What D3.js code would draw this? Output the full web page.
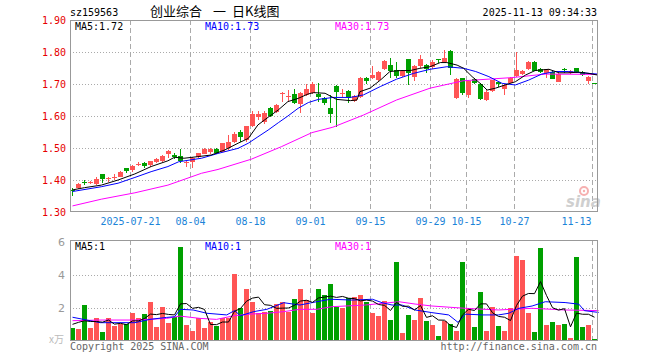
<!DOCTYPE html>
<html>
<head>
<meta charset="utf-8">
<script src="https://cdn.jsdelivr.net/npm/d3@7"></script>
<style>
  body { margin: 0; background: #fff; }
  svg { display: block; }
  text { font-family: "DejaVu Sans Mono", "Liberation Mono", monospace; font-size: 10px; }
</style>
</head>
<body>
<div id="chart"></div>
<script>
// trading days shown, 2025-07-07 .. 2025-11-13
var dates = ["07-07","07-08","07-09","07-10","07-11","07-14","07-15","07-16","07-17","07-18",
  "07-21","07-22","07-23","07-24","07-25","07-28","07-29","07-30","07-31","08-01",
  "08-04","08-05","08-06","08-07","08-08","08-11","08-12","08-13","08-14","08-15",
  "08-18","08-19","08-20","08-21","08-22","08-25","08-26","08-27","08-28","08-29",
  "09-01","09-02","09-03","09-04","09-05","09-08","09-09","09-10","09-11","09-12",
  "09-15","09-16","09-17","09-18","09-19","09-22","09-23","09-24","09-25","09-26",
  "09-29","09-30","10-09","10-10","10-13","10-14","10-15","10-16","10-17","10-20",
  "10-21","10-22","10-23","10-24","10-27","10-28","10-29","10-30","10-31","11-03",
  "11-04","11-05","11-06","11-07","11-10","11-11","11-12","11-13"];

var open = [1.368,1.375,1.395,1.392,1.388,1.418,1.402,1.405,1.410,1.436,
  1.430,1.448,1.453,1.447,1.455,1.460,1.480,1.478,1.475,1.452,
  1.455,1.472,1.482,1.487,1.498,1.489,1.500,1.520,1.550,1.526,
  1.568,1.597,1.580,1.624,1.614,1.668,1.660,1.668,1.638,1.666,
  1.672,1.670,1.655,1.624,1.694,1.671,1.678,1.648,1.660,1.720,
  1.718,1.712,1.746,1.758,1.745,1.726,1.777,1.723,1.757,1.759,
  1.752,1.779,1.770,1.804,1.655,1.718,1.666,1.715,1.700,1.650,
  1.677,1.707,1.683,1.704,1.725,1.731,1.746,1.770,1.746,1.735,
  1.739,1.707,1.748,1.733,1.749,1.739,1.710,1.702];

var high = [1.375,1.390,1.400,1.398,1.409,1.420,1.410,1.418,1.428,1.438,
  1.446,1.456,1.456,1.460,1.468,1.478,1.493,1.485,1.498,1.460,
  1.472,1.485,1.499,1.500,1.500,1.517,1.540,1.550,1.555,1.570,
  1.617,1.617,1.615,1.627,1.636,1.676,1.680,1.684,1.676,1.700,
  1.705,1.704,1.660,1.666,1.696,1.683,1.680,1.665,1.722,1.722,
  1.755,1.740,1.776,1.780,1.768,1.745,1.778,1.760,1.790,1.763,
  1.775,1.779,1.806,1.806,1.718,1.720,1.712,1.720,1.702,1.680,
  1.714,1.710,1.699,1.722,1.800,1.745,1.772,1.772,1.750,1.748,
  1.741,1.733,1.750,1.745,1.751,1.741,1.725,1.703];

var low = [1.350,1.372,1.385,1.388,1.383,1.390,1.395,1.400,1.408,1.422,
  1.425,1.443,1.437,1.440,1.452,1.455,1.470,1.465,1.452,1.440,
  1.436,1.468,1.480,1.482,1.482,1.487,1.495,1.515,1.520,1.520,
  1.565,1.587,1.575,1.598,1.610,1.645,1.645,1.637,1.610,1.662,
  1.668,1.645,1.635,1.579,1.565,1.660,1.640,1.645,1.655,1.700,
  1.715,1.708,1.744,1.718,1.718,1.722,1.697,1.710,1.750,1.735,
  1.748,1.765,1.768,1.728,1.653,1.665,1.655,1.700,1.650,1.647,
  1.675,1.690,1.666,1.702,1.723,1.729,1.744,1.740,1.735,1.718,
  1.715,1.705,1.735,1.730,1.735,1.726,1.700,1.701];

var close = [1.366,1.388,1.393,1.393,1.402,1.403,1.405,1.410,1.425,1.427,
  1.444,1.451,1.445,1.458,1.466,1.475,1.490,1.473,1.458,1.455,
  1.470,1.483,1.497,1.498,1.485,1.515,1.520,1.545,1.533,1.568,
  1.605,1.606,1.610,1.600,1.634,1.671,1.663,1.640,1.671,1.683,
  1.700,1.660,1.640,1.607,1.676,1.673,1.655,1.662,1.720,1.710,
  1.728,1.738,1.772,1.742,1.725,1.742,1.733,1.756,1.777,1.746,
  1.770,1.778,1.780,1.750,1.715,1.672,1.710,1.703,1.653,1.676,
  1.712,1.700,1.697,1.720,1.744,1.742,1.770,1.742,1.739,1.746,
  1.715,1.731,1.746,1.742,1.739,1.728,1.723,1.701];

// volume, 万
var volume = [0.76,0.70,2.15,0.78,1.38,0.53,1.38,0.90,1.00,1.00,
  1.69,1.38,1.60,2.35,0.84,2.05,1.08,1.44,5.69,0.94,
  0.59,1.38,0.78,1.14,0.90,1.38,1.38,4.03,1.99,3.12,
  2.31,1.69,1.72,1.81,2.21,2.35,1.75,2.52,3.12,2.45,
  1.69,3.12,2.76,3.44,2.05,1.99,2.56,2.65,2.76,2.31,
  1.69,1.48,2.39,1.24,4.76,0.47,1.55,1.24,2.58,1.18,
  0.94,0.27,1.18,0.98,0.58,4.76,1.95,0.84,2.96,0.59,
  2.05,0.88,0.59,1.95,5.14,4.88,1.69,0.53,5.63,0.94,
  1.14,0.94,1.00,0.15,5.08,0.80,0.94,0.09];

// moving average lines: [day index, value]
var ma5Price = [[0,1.369],[2,1.376],[4.8,1.384],[7.6,1.40],[10.4,1.419],[13.1,1.442],[15.9,1.46],
  [17,1.471],[18.6,1.468],[20.9,1.473],[23.1,1.478],[25.4,1.494],[27.6,1.515],[29.3,1.53],
  [30.9,1.572],[32.6,1.596],[34.3,1.619],[35.9,1.645],[37.6,1.655],[39.3,1.669],[40.2,1.673],
  [42.1,1.671],[43.4,1.658],[44,1.652],[46.3,1.648],[47.4,1.65],[47.9,1.676],[49.6,1.687],
  [51.3,1.712],[52.9,1.739],[54.6,1.742],[56.3,1.742],[57.9,1.749],[59.6,1.754],[61.3,1.767],
  [62.4,1.767],[64.1,1.759],[65.2,1.749],[66.6,1.723],[68.25,1.697],[69.1,1.681],[70.5,1.687],
  [72.1,1.697],[73.8,1.707],[75.5,1.728],[77.1,1.742],[79.4,1.746],[81.1,1.735],[82.7,1.735],
  [84.4,1.737],[86.1,1.733],[87.5,1.728]];
var ma10Price = [[0,1.364],[4.8,1.379],[7.6,1.39],[10.4,1.408],[13.1,1.426],[15.9,1.442],[17.7,1.457],
  [21.5,1.468],[24.25,1.483],[27.6,1.499],[29.3,1.515],[30.9,1.535],[32.6,1.556],[34.3,1.579],
  [35.9,1.60],[37.6,1.624],[39.3,1.642],[41,1.652],[43.4,1.658],[46.3,1.658],[48.5,1.666],
  [51.3,1.692],[54,1.715],[56.8,1.733],[59.6,1.746],[62.4,1.754],[65.2,1.749],[67.2,1.739],
  [69.4,1.723],[71.6,1.702],[73.8,1.697],[76,1.712],[78.2,1.731],[80.5,1.739],[82.7,1.739],
  [84.9,1.735],[87.5,1.731]];
var ma30Price = [[0,1.319],[4.8,1.34],[10.4,1.36],[15.9,1.384],[21.5,1.421],[24.25,1.433],[29.8,1.465],
  [34.8,1.504],[39.9,1.548],[43.4,1.565],[48.5,1.603],[54,1.65],[59.6,1.687],[65.1,1.71],
  [73.25,1.72],[78.8,1.731],[87.5,1.73]];

var ma5Vol = [0.98,1.10,1.20,1.15,1.15,1.11,1.24,0.99,1.04,0.96,
  1.19,1.19,1.33,1.60,1.57,1.64,1.58,1.55,2.22,2.24,
  1.95,2.01,1.88,0.97,0.96,1.12,1.12,1.77,1.94,2.38,
  2.57,2.63,2.17,2.13,1.95,1.96,1.97,2.13,2.39,2.44,
  2.31,2.58,2.63,2.69,2.61,2.67,2.56,2.54,2.40,2.45,
  2.39,2.18,2.13,1.82,2.31,2.07,2.08,1.85,2.12,1.40,
  1.50,1.24,1.23,0.91,0.79,1.55,1.89,1.82,2.22,2.22,
  1.68,1.46,1.41,1.21,2.12,2.69,2.85,2.84,3.57,2.73,
  1.99,1.84,1.93,0.83,1.66,1.59,1.59,1.41];
var ma10Vol = [[0,1.41],[2.4,1.24],[4.6,1.08],[10.4,1.08],[12.9,1.28],[15.7,1.4],[17,1.44],[18,1.89],
  [20.1,1.85],[22.4,1.65],[25.7,1.55],[27,1.81],[28,1.5],[30.2,1.75],[32.4,1.89],[35.2,2.29],
  [37.9,2.15],[40.7,2.35],[43,2.5],[46.6,2.45],[50,2.5],[51.6,2.29],[53.25,2.15],[54.9,2.15],
  [57.1,1.85],[59.9,1.69],[62.7,1.55],[64.25,1.1],[65.5,1.6],[68.25,1.55],[71,1.55],[72.7,1.65],
  [74.4,1.95],[76.6,2.09],[78.8,2.35],[82.1,2.3],[84.4,2.2],[85.3,1.81],[87.7,1.7]];
var ma30Vol = [[0,1.2],[4.6,1.24],[10.4,1.24],[15.7,1.34],[17.9,1.48],[21.25,1.34],[24,1.28],
  [26.9,1.5],[29.6,1.6],[32.4,1.65],[35.2,1.75],[37.9,1.89],[40.7,1.89],[43.25,2.05],[48.8,2.15],
  [54.4,2.35],[57.1,2.21],[59.9,2.09],[65.5,1.95],[71,1.85],[76.6,1.95],[82.1,1.85],[87.7,1.81]];

var priceTicks = [1.30, 1.40, 1.50, 1.60, 1.70, 1.80, 1.90];
var volTicks = [2, 4, 6];
var dateTicks = ["07-21","08-04","08-18","09-01","09-15","09-29","10-15","10-27","11-13"];

var svgWidth = 660, svgHeight = 360;
var left = 70, right = 597;
var priceTop = 20, priceBottom = 211;
var volTop = 240, volBottom = 340;

var svg = d3.select("#chart").append("svg")
  .attr("width", svgWidth)
  .attr("height", svgHeight);

var x = d3.scaleLinear().domain([0, dates.length]).range([left, left + 6 * dates.length]);
var y = d3.scaleLinear().domain([1.30, 1.90]).range([212, 20]);
var vy = d3.scaleLinear().domain([0, 6]).range([340.5, 241.5]);
var mid = function(i) { return x(i) + 2.5; };

var red = "#ff5555", green = "#00a000";
var isUp = function(i) { return close[i] >= open[i]; };

// header texts
svg.append("text").attr("x", 70).attr("y", 16).text("sz159563");
var cjk = "'Noto Sans CJK SC', sans-serif";
[[150, "创业综合"], [213, "一"], [232, "日K线图"]].forEach(function(t) {
  svg.append("text").attr("x", t[0]).attr("y", 16)
    .style("font-family", cjk).style("font-size", "13px").text(t[1]);
});
svg.append("text").attr("x", 597).attr("y", 16).attr("text-anchor", "end").text("2025-11-13 09:34:33");

// grids
var tickIdx = dateTicks.map(function(d) { return dates.indexOf(d); });

function grid(top, bottom, ys) {
  var g = svg.append("g").attr("shape-rendering", "crispEdges");
  g.selectAll(".h").data(ys).enter().append("line")
    .attr("x1", left).attr("x2", right)
    .attr("y1", function(d) { return Math.round(d) + 0.5; })
    .attr("y2", function(d) { return Math.round(d) + 0.5; })
    .attr("stroke", "#aaa").attr("stroke-dasharray", "1,2");
  g.selectAll(".v").data(tickIdx).enter().append("line")
    .attr("x1", function(i) { return x(i) + 0.5; })
    .attr("x2", function(i) { return x(i) + 0.5; })
    .attr("y1", top).attr("y2", bottom)
    .attr("stroke", "#aaa").attr("stroke-dasharray", "5,3");
}
grid(priceTop, priceBottom, [1.40, 1.50, 1.60, 1.70, 1.80].map(y));
grid(volTop, volBottom, [2, 4].map(vy));

// sina watermark
var logo = svg.append("g");
logo.append("circle").attr("cx", 584).attr("cy", 191).attr("r", 4)
  .attr("fill", "none").attr("stroke", "#f6b0b0").attr("stroke-width", 2);
logo.append("circle").attr("cx", 584).attr("cy", 191).attr("r", 1.2).attr("fill", "#f6b0b0");
logo.append("text").attr("x", 566).attr("y", 207)
  .style("font-family", "'DejaVu Sans', sans-serif").style("font-size", "15px")
  .style("font-weight", "bold").style("font-style", "italic")
  .attr("fill", "#cfcfcf").text("sina");

// candles
var candles = svg.append("g").attr("shape-rendering", "crispEdges");
candles.selectAll(".wick").data(dates).enter().append("line")
  .attr("x1", function(d, i) { return mid(i); })
  .attr("x2", function(d, i) { return mid(i); })
  .attr("y1", function(d, i) { return y(high[i]); })
  .attr("y2", function(d, i) { return y(low[i]); })
  .attr("stroke", function(d, i) { return isUp(i) ? red : green; });
candles.selectAll(".body").data(dates).enter().append("rect")
  .attr("x", function(d, i) { return x(i); })
  .attr("width", 5)
  .attr("y", function(d, i) { return y(Math.max(open[i], close[i])); })
  .attr("height", function(d, i) { return Math.max(1, Math.abs(y(open[i]) - y(close[i]))); })
  .attr("fill", function(d, i) { return isUp(i) ? red : green; });

// volume bars
svg.append("g").attr("shape-rendering", "crispEdges")
  .selectAll("rect").data(volume).enter().append("rect")
  .attr("x", function(d, i) { return x(i); })
  .attr("width", 5)
  .attr("y", function(d) { return vy(d); })
  .attr("height", function(d) { return vy(0) - vy(d); })
  .attr("fill", function(d, i) { return isUp(i) ? red : green; });

// moving averages
function maLine(points, scale, color) {
  svg.append("path").datum(points)
    .attr("fill", "none").attr("stroke", color).attr("stroke-width", 1)
    .attr("d", d3.line().x(function(d) { return mid(d[0]); }).y(function(d) { return scale(d[1]); }));
}
maLine(ma30Price, y, "#ff00ff");
maLine(ma10Price, y, "#0000ff");
maLine(ma5Price, y, "#000");
maLine(ma30Vol, vy, "#ff00ff");
maLine(ma10Vol, vy, "#0000ff");
maLine(ma5Vol.map(function(v, i) { return [i, v]; }), vy, "#000");

// frames
svg.append("rect").attr("x", left + 0.5).attr("y", priceTop + 0.5)
  .attr("width", right - left).attr("height", priceBottom - priceTop)
  .attr("fill", "none").attr("stroke", "#999");
svg.append("rect").attr("x", left + 0.5).attr("y", volTop + 0.5)
  .attr("width", right - left).attr("height", volBottom - volTop)
  .attr("fill", "none").attr("stroke", "#999");

// axes
var priceAxis = svg.append("g").attr("transform", "translate(" + left + ",0)")
  .call(d3.axisLeft(y).tickValues(priceTicks).tickFormat(d3.format(".2f")).tickSize(0).tickPadding(4));
priceAxis.select(".domain").remove();
priceAxis.selectAll("text").attr("fill", "#e60000")
  .style("font-family", "'DejaVu Sans Mono', monospace").style("font-size", "10px");

var volAxis = svg.append("g").attr("transform", "translate(" + left + ",0)")
  .call(d3.axisLeft(vy).tickValues(volTicks).tickFormat(d3.format("d")).tickSize(0).tickPadding(5));
volAxis.select(".domain").remove();
volAxis.selectAll("text").attr("fill", "#999")
  .style("font-family", "'DejaVu Sans', sans-serif").style("font-size", "11px");

var dateAxis = svg.append("g").attr("transform", "translate(0," + 212 + ")")
  .call(d3.axisBottom(x).tickValues(tickIdx).tickSize(0).tickPadding(6)
    .tickFormat(function(i) { return i === tickIdx[0] ? "2025-" + dates[i] : dates[i]; }));
dateAxis.select(".domain").remove();
dateAxis.selectAll("text").attr("fill", "#1c84d8")
  .style("font-family", "'DejaVu Sans Mono', monospace").style("font-size", "10px");
dateAxis.selectAll(".tick").filter(function(d, k) { return k === tickIdx.length - 1; })
  .select("text").attr("text-anchor", "end").attr("x", -1);

// legends
function legend(yPos, items) {
  items.forEach(function(it) {
    svg.append("text").attr("x", it[0]).attr("y", yPos).attr("fill", it[2]).text(it[1]);
  });
}
legend(30, [[75, "MA5:1.72", "#000"], [205, "MA10:1.73", "#0000ff"], [335, "MA30:1.73", "#ff00ff"]]);
legend(250, [[75, "MA5:1", "#000"], [205, "MA10:1", "#0000ff"], [335, "MA30:1", "#ff00ff"]]);

// footer
svg.append("text").attr("x", 64).attr("y", 343).attr("text-anchor", "end")
  .style("font-family", "'Noto Sans CJK SC', sans-serif").style("font-size", "10px")
  .attr("fill", "#bbb").text("x万");
svg.append("text").attr("x", 70).attr("y", 350).attr("fill", "#666").text("Copyright 2025 SINA.COM");
svg.append("text").attr("x", 597).attr("y", 350).attr("text-anchor", "end").attr("fill", "#666")
  .text("http://finance.sina.com.cn");
</script>
</body>
</html>
